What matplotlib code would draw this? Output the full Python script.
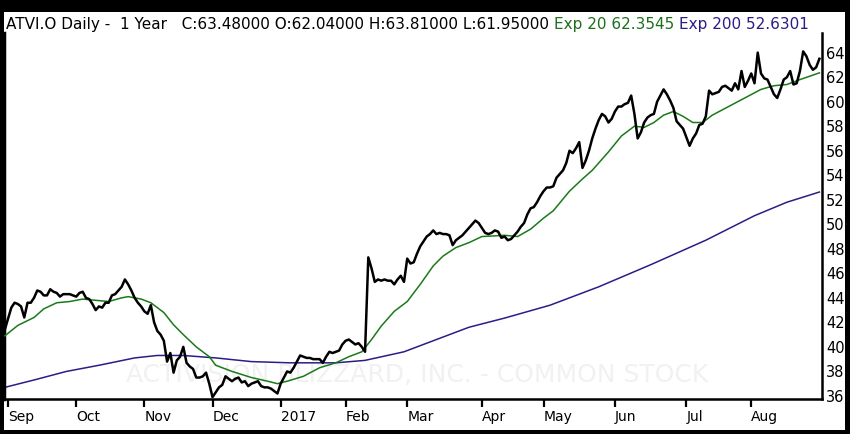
import numpy as np
import pandas as pd
import matplotlib
matplotlib.use("Agg")
import matplotlib.pyplot as plt
from matplotlib.patches import Rectangle

# --- DATA ---
holidays = ["2016-09-05", "2016-11-24", "2016-12-26", "2017-01-02", "2017-01-16",
            "2017-02-20", "2017-04-14", "2017-05-29", "2017-07-04"]

close = [
    41.4, 42.3, 43.2, 43.6, 43.5, 43.3, 42.4, 43.6, 43.6, 44.0,
    44.6, 44.5, 44.2, 44.2, 44.7, 44.5, 44.4, 44.1, 44.3, 44.3,
    44.3, 44.2, 44.1, 44.4, 44.5, 44.0, 43.9, 43.5, 43.0, 43.3,
    43.2, 43.6, 43.6, 44.2, 44.3, 44.6, 44.9, 45.5, 45.1, 44.6,
    44.0, 43.6, 43.3, 42.9, 42.7, 43.4, 42.0, 41.3, 41.0, 40.5,
    38.8, 39.5, 37.9, 38.9, 39.2, 40.0, 38.7, 38.4, 38.2, 37.5,
    37.5, 37.6, 37.9, 37.0, 35.9, 36.3, 36.7, 36.9, 37.6, 37.4,
    37.2, 37.4, 37.5, 37.1, 37.2, 36.8, 37.0, 37.1, 37.2, 36.8,
    36.7, 36.7, 36.6, 36.4, 36.2, 37.0, 37.5, 38.0, 37.9, 38.3,
    38.8, 39.3, 39.2, 39.1, 39.1, 39.0, 39.0, 39.0, 38.7, 39.2,
    39.6, 39.5, 39.6, 39.7, 40.2, 40.5, 40.6, 40.4, 40.2, 40.3,
    40.0, 39.6, 47.3, 46.4, 45.3, 45.5, 45.4, 45.5, 45.4, 45.4,
    45.1, 45.5, 45.8, 45.3, 47.2, 46.8, 46.9, 47.6, 48.2, 48.6,
    49.0, 49.2, 49.5, 49.2, 49.3, 49.2, 49.2, 49.1, 48.3, 48.7,
    48.9, 49.1, 49.4, 49.7, 50.0, 50.3, 50.1, 49.7, 49.3, 49.2,
    49.3, 49.5, 49.4, 48.9, 49.0, 48.7, 48.8, 49.1, 49.4, 49.8,
    50.1, 50.8, 51.3, 51.4, 51.8, 52.3, 52.7, 53.0, 53.0, 53.1,
    53.8, 54.1, 54.4, 55.0, 56.0, 55.8, 56.2, 56.7, 54.6, 55.2,
    56.0, 57.0, 57.8, 58.5, 59.0, 58.8, 58.3, 58.6, 59.2, 59.6,
    59.6, 59.8, 59.9, 60.5, 59.0, 57.0, 57.5, 58.3, 58.7, 58.9,
    59.0, 60.0, 60.5, 61.0, 60.6, 60.1, 59.5, 58.4, 58.1, 57.8,
    57.1, 56.4, 57.0, 57.4, 58.1, 58.2, 58.8, 60.9, 60.6, 60.7,
    60.8, 61.2, 61.3, 61.1, 60.9, 61.5, 61.0, 62.5, 61.2, 61.7,
    62.3, 61.5, 64.0, 62.3, 61.9, 61.8, 61.2, 60.6, 60.3, 61.0,
    61.8, 62.0, 62.5, 61.4, 61.5, 62.5, 64.1, 63.7, 63.0, 62.6,
    62.8, 63.5,
]

# exponential averages, sampled at trading-day positions
ema20_day = [0, 4, 9, 12, 16, 20, 24, 28, 32, 36, 38, 42, 45, 49, 52, 55, 59, 63,
             65, 70, 76, 81, 84, 87, 92, 97, 102, 106, 110, 113, 116, 120, 124,
             128, 132, 135, 139, 143, 147, 154, 158, 162, 166, 169, 174, 178, 181,
             186, 190, 194, 197, 200, 203, 206, 209, 212, 215, 218, 223, 228, 233,
             237, 241, 245, 251]
ema20_val = [40.9, 41.75, 42.4, 43.1, 43.6, 43.7, 43.9, 43.8, 43.7, 44.0, 44.1, 43.9,
             43.6, 42.8, 41.8, 41.0, 40.0, 39.2, 38.5, 38.0, 37.5, 37.2, 37.0, 37.2,
             37.6, 38.3, 38.7, 39.2, 39.6, 40.6, 41.7, 42.9, 43.7, 45.1, 46.6, 47.4,
             48.1, 48.5, 49.0, 49.1, 49.0, 49.6, 50.5, 51.1, 52.7, 53.7, 54.4, 55.9,
             57.2, 58.0, 57.9, 58.3, 58.9, 59.2, 58.8, 58.3, 58.3, 58.9, 59.6, 60.3,
             61.0, 61.3, 61.4, 61.8, 62.35]

ema200_day = [0, 9, 19, 29, 40, 47, 55, 65, 76, 88, 102, 111, 123, 133, 143, 154,
              168, 183, 199, 216, 231, 241, 251]
ema200_val = [36.7, 37.3, 38.0, 38.5, 39.1, 39.3, 39.3, 39.1, 38.8, 38.7, 38.7, 38.9,
              39.6, 40.6, 41.6, 42.35, 43.4, 44.9, 46.7, 48.7, 50.7, 51.8, 52.63]

month_names = ["Sep", "Oct", "Nov", "Dec", "2017", "Feb", "Mar", "Apr", "May",
               "Jun", "Jul", "Aug"]

header_black = "ATVI.O Daily -  1 Year   C:63.48000 O:62.04000 H:63.81000 L:61.95000 "
header_green = "Exp 20 62.3545 "
header_purple = "Exp 200 52.6301"
watermark = "ACTIVISION BLIZZARD, INC. - COMMON STOCK"

# --- TRADING DAYS ---
dates = pd.bdate_range("2016-08-31", "2017-08-30", freq="C", holidays=holidays)
dates = dates[:len(close)]
x = np.arange(len(close))
month_start = [i for i in range(1, len(dates)) if dates[i].month != dates[i - 1].month]

# --- FIGURE ---
W, H = 850, 434
fig = plt.figure(figsize=(W / 100, H / 100), dpi=100, facecolor="black")
fig.patches.append(Rectangle((4 / W, 4 / H), 841 / W, (H - 16) / H,
                             transform=fig.transFigure, facecolor="white",
                             edgecolor="none", zorder=-10))

ax = fig.add_axes([4 / W, 1 - 399 / H, 818 / W, 366 / H])
ax.set_facecolor("white")

ax.text(0.505, 0.065, watermark, transform=ax.transAxes, ha="center", va="center",
        fontsize=18, color="#f1f1f1", zorder=0)

ax.plot(ema200_day, ema200_val, color="#2b1d86", lw=1.1, zorder=2)
ax.plot(ema20_day, ema20_val, color="#1a7a1a", lw=1.1, zorder=3)
ax.plot(x, close, color="black", lw=1.8, zorder=4)

ax.set_xlim(-0.25, 251.8)
ax.set_ylim(35.75, 65.6)

ax.yaxis.tick_right()
ax.set_yticks(range(36, 65, 2))
ax.tick_params(axis="y", length=0, pad=3, labelsize=10.5)

ax.set_xticks(month_start)
ax.set_xticklabels(month_names[:len(month_start)], ha="left")
ax.tick_params(axis="x", direction="out", length=6, width=1.6, labelsize=10, pad=2)

ax.spines["top"].set_visible(False)
ax.spines["left"].set_linewidth(2.5)
ax.spines["bottom"].set_linewidth(1.8)
ax.spines["right"].set_linewidth(1.8)

# --- HEADER ---
fig.canvas.draw()
r = fig.canvas.get_renderer()
hx, hy = 6 / W, 1 - 24 / H
for txt, col in [(header_black, "black"), (header_green, "#1e6e1e"),
                 (header_purple, "#2b1d86")]:
    t = fig.text(hx, hy, txt, color=col, fontsize=11, va="center", ha="left")
    bb = t.get_window_extent(renderer=r)
    hx = bb.x1 / W

fig.savefig("out.png", dpi=100, facecolor="black")
